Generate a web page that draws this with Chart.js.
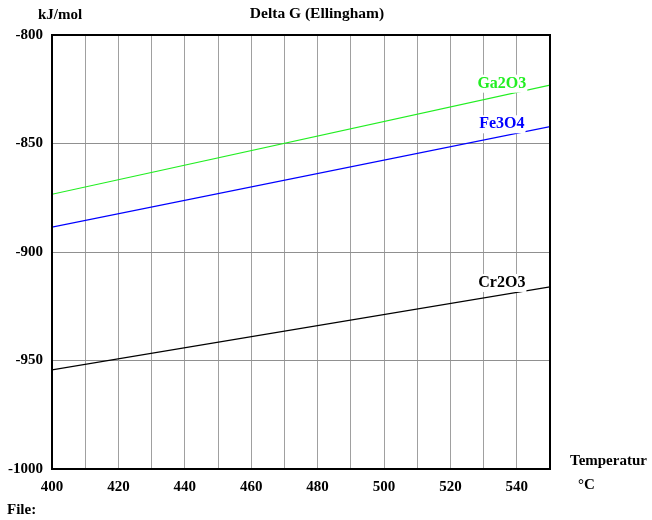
<!DOCTYPE html>
<html>
<head>
<meta charset="utf-8">
<script src="https://cdn.jsdelivr.net/npm/chart.js@4/dist/chart.umd.min.js"></script>
<style>
html,body{margin:0;padding:0;background:#fff;}
#wrap{width:652px;height:520px;position:relative;}
</style>
</head>
<body>
<div id="wrap"><canvas id="c" width="652" height="520"></canvas></div>
<script>
// ---- data ----
const temperatures = [400, 550];
const ga2o3 = [-873.4, -823.1];
const fe3o4 = [-888.5, -842.2];
const cr2o3 = [-954.3, -916.1];
const seriesNames = ['Ga2O3', 'Fe3O4', 'Cr2O3'];
const xTickLabels = [400, 420, 440, 460, 480, 500, 520, 540];
const yTickLabels = [-1000, -950, -900, -850, -800];

const FONT = '"Liberation Serif", "Times New Roman", serif';
const colors = ['#22ee22', '#0000ff', '#000000'];
const seriesValues = [ga2o3, fe3o4, cr2o3];

const datasets = seriesNames.map((n, i) => ({
  label: n,
  data: temperatures.map((t, j) => ({x: t, y: seriesValues[i][j]})),
  borderColor: colors[i],
  backgroundColor: colors[i],
  borderWidth: 1.2,
  pointRadius: 0,
  fill: false,
  tension: 0
}));

const labelAt = 535.5; // x value where series names are placed

const decor = {
  id: 'decor',
  afterDatasetsDraw(chart) {
    const ctx = chart.ctx;
    const xs = chart.scales.x, ys = chart.scales.y;
    ctx.save();
    ctx.font = 'bold 16px ' + FONT;
    ctx.textAlign = 'center';
    ctx.textBaseline = 'middle';
    seriesNames.forEach((n, i) => {
      const v = seriesValues[i];
      const yv = v[0] + (v[1] - v[0]) * (labelAt - temperatures[0]) / (temperatures[1] - temperatures[0]);
      const px = xs.getPixelForValue(labelAt);
      const py = ys.getPixelForValue(yv) - 12;
      const w = ctx.measureText(n).width;
      ctx.fillStyle = '#fff';
      ctx.fillRect(px - w / 2 - 1, py - 9, w + 2, 18);
      ctx.fillStyle = colors[i];
      ctx.fillText(n, px, py);
    });
    // frame
    const a = chart.chartArea;
    ctx.strokeStyle = '#000';
    ctx.lineWidth = 2;
    ctx.strokeRect(a.left, a.top, a.right - a.left, a.bottom - a.top);
    // texts
    ctx.fillStyle = '#000';
    ctx.font = 'bold 15px ' + FONT;
    ctx.textAlign = 'center';
    ctx.fillText('kJ/mol', 60, 15);
    ctx.font = 'bold 15.5px ' + FONT;
    ctx.fillText('Delta G (Ellingham)', 317, 14);
    ctx.font = 'bold 15px ' + FONT;
    ctx.textAlign = 'left';
    ctx.fillText('Temperatur', 570, 461);
    ctx.fillText('°C', 578, 485);
    ctx.fillText('File:', 7, 510);
    ctx.restore();
  }
};

new Chart(document.getElementById('c'), {
  type: 'line',
  data: { datasets },
  plugins: [decor],
  options: {
    responsive: false,
    animation: false,
    layout: { padding: { left: 0, right: 102, top: 35, bottom: 0 } },
    plugins: { legend: { display: false }, tooltip: { enabled: false }, title: { display: false } },
    scales: {
      x: {
        type: 'linear',
        min: 400, max: 550,
        afterFit: s => { s.height = 51; },
        grid: { color: '#a0a0a0', lineWidth: 1, drawTicks: false },
        border: { display: false },
        ticks: {
          stepSize: 10,
          padding: 9,
          autoSkip: false,
          maxRotation: 0,
          color: '#000',
          font: { family: FONT, size: 15, weight: 'bold' },
          callback: v => xTickLabels.includes(v) ? String(v) : ''
        }
      },
      y: {
        type: 'linear',
        min: -1000, max: -800,
        afterFit: s => { s.width = 52; },
        grid: { color: '#909090', lineWidth: 1, drawTicks: false },
        border: { display: false },
        ticks: {
          stepSize: 50,
          padding: 9,
          color: '#000',
          font: { family: FONT, size: 15, weight: 'bold' },
          callback: v => yTickLabels.includes(v) ? String(v) : ''
        }
      }
    }
  }
});
</script>
</body>
</html>
